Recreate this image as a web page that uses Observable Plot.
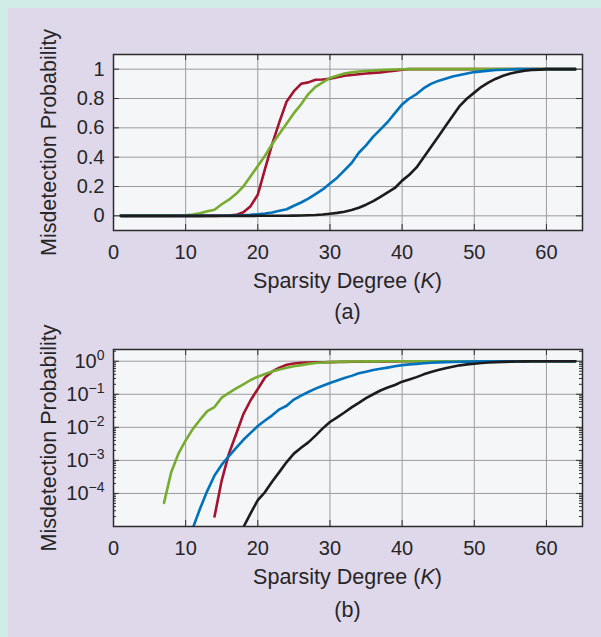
<!DOCTYPE html>
<html><head><meta charset="utf-8">
<script src="https://cdn.jsdelivr.net/npm/d3@7"></script>
<script src="https://cdn.jsdelivr.net/npm/@observablehq/plot@0.6"></script>
<style>
body{margin:0;background:#d0ece7;width:601px;height:637px;overflow:hidden;position:relative;font-family:"Liberation Sans",Arial,sans-serif;color:#262626}
#panel{position:absolute;left:8px;top:8px;width:593px;height:629px;background:#dfd8eb}
.chart{position:absolute;left:0}
.cap{position:absolute;left:113px;width:469px;text-align:center;font-size:21.5px;line-height:26px;color:#262626}
</style></head><body>
<div id="panel"></div>
<div id="chartA" class="chart" style="top:0"></div>
<div id="chartB" class="chart" style="top:300px"></div>
<div class="cap" style="top:268px">Sparsity Degree (<i>K</i>)</div>
<div class="cap" style="top:299px">(a)</div>
<div class="cap" style="top:564px">Sparsity Degree (<i>K</i>)</div>
<div class="cap" style="top:597px">(b)</div>
<script>
const K = [1,2,3,4,5,6,7,8,9,10,11,12,13,14,15,16,17,18,19,20,21,22,23,24,25,26,27,28,29,30,31,32,33,34,35,36,37,38,39,40,41,42,43,44,45,46,47,48,49,50,51,52,53,54,55,56,57,58,59,60,61,62,63,64];
const red = [0,0,0,0,0,0,0,0,0,0,0,0,0,0.00002,0.00025,0.0016,0.0063,0.025,0.066,0.145,0.32,0.49,0.64,0.78,0.85,0.9,0.91,0.928,0.93,0.935,0.945,0.955,0.96,0.965,0.97,0.975,0.978,0.985,0.99,0.997,1,1,1,1,1,1,1,1,1,1,1,1,1,1,1,1,1,1,1,1,1,1,1,1];
const green = [0,0,0,0,0,0,0.000052,0.00044,0.0016,0.004,0.009,0.017,0.031,0.041,0.079,0.11,0.15,0.2,0.27,0.34,0.41,0.49,0.56,0.63,0.7,0.76,0.83,0.88,0.91,0.94,0.955,0.97,0.978,0.984,0.988,0.991,0.994,0.996,0.998,0.999,1,1,1,1,1,1,1,1,1,1,1,1,1,1,1,1,1,1,1,1,1,1,1,1];
const blue = [0,0,0,0,0,0,0,0,0,0,0.000009,0.000035,0.00012,0.00035,0.00074,0.00135,0.0024,0.0042,0.0068,0.011,0.016,0.023,0.035,0.045,0.069,0.091,0.117,0.148,0.18,0.22,0.26,0.31,0.36,0.43,0.48,0.54,0.59,0.64,0.7,0.76,0.8,0.83,0.87,0.9,0.92,0.935,0.95,0.96,0.97,0.98,0.985,0.99,0.994,0.996,0.998,1,1,1,1,1,1,1,1,1];
const black = [0,0,0,0,0,0,0,0,0,0,0,0,0,0,0,0,0,0.0000095,0.000025,0.000063,0.00011,0.00023,0.00045,0.00089,0.0016,0.0024,0.0035,0.0056,0.0093,0.0145,0.02,0.028,0.04,0.055,0.076,0.1,0.13,0.16,0.19,0.24,0.28,0.33,0.4,0.47,0.54,0.61,0.68,0.75,0.8,0.84,0.88,0.91,0.935,0.955,0.97,0.98,0.99,0.995,0.997,1,1,1,1,1];
const seriesNames = ["red","green","blue","black"];
const seriesColors = ["#a2142f","#77ac30","#0072bd","#1c1c1c"];
const seriesValues = [red, green, blue, black];
const xTicks = [0,10,20,30,40,50,60];
const yTicksLin = [0,0.2,0.4,0.6,0.8,1];
const yTicksLog = [1e-4,1e-3,1e-2,1e-1,1];
const yMinorLog = [2e-5,3e-5,4e-5,5e-5,6e-5,7e-5,8e-5,9e-5,2e-4,3e-4,4e-4,5e-4,6e-4,7e-4,8e-4,9e-4,2e-3,3e-3,4e-3,5e-3,6e-3,7e-3,8e-3,9e-3,2e-2,3e-2,4e-2,5e-2,6e-2,7e-2,8e-2,9e-2,0.2,0.3,0.4,0.5,0.6,0.7,0.8,0.9,2];
const yLabel = "Misdetection Probability";

const W = 601, H = 260, ML = 113, MR = 19;
const FW = W - ML - MR;
const gridColor = "#9b9b9b", tickColor = "#333";

function chart({log, marginTop, marginBottom, yDomain, yTicks, yMinor, tickFormat}) {
  const FH = H - marginTop - marginBottom;
  const marks = [
    Plot.frame({fill: "#f4f6f8", stroke: "none"}),
    Plot.ruleX(xTicks.filter(d => d > 0), {x: d => d, stroke: gridColor, strokeWidth: 1}),
    Plot.ruleY(yTicks, {y: d => d, stroke: gridColor, strokeWidth: 1}),
    Plot.tickX(xTicks, {x: d => d, insetTop: FH - 6, stroke: tickColor}),
    Plot.tickX(xTicks, {x: d => d, insetBottom: FH - 6, stroke: tickColor}),
    Plot.tickY(yTicks, {y: d => d, insetRight: FW - 6, stroke: tickColor}),
    Plot.tickY(yTicks, {y: d => d, insetLeft: FW - 6, stroke: tickColor})
  ];
  if (yMinor) {
    marks.push(Plot.tickY(yMinor, {y: d => d, insetRight: FW - 3, stroke: tickColor}));
    marks.push(Plot.tickY(yMinor, {y: d => d, insetLeft: FW - 3, stroke: tickColor}));
  }
  seriesValues.forEach((vals, si) => {
    const rows = K.map((k, i) => ({K: k, v: vals[i]})).filter(d => !log || d.v > 0);
    marks.push(Plot.line(rows, {x: "K", y: "v", stroke: seriesColors[si], strokeWidth: 2.6, clip: true}));
  });
  marks.push(Plot.frame({stroke: "#2b2b2b", strokeWidth: 1.5}));
  return Plot.plot({
    width: W, height: H,
    marginLeft: ML, marginRight: MR, marginTop, marginBottom,
    style: {fontFamily: "'Liberation Sans', Arial, sans-serif", fontSize: "20px", color: "#262626", background: "transparent", overflow: "visible"},
    x: {domain: [0, 65], ticks: xTicks, tickSize: 0, tickPadding: 14, label: null, tickFormat: d => String(d)},
    y: {type: log ? "log" : "linear", domain: yDomain, ticks: yTicks, tickSize: 0, tickPadding: 9, tickFormat,
        label: yLabel, labelAnchor: "center", labelArrow: "none", labelOffset: 73},
    marks
  });
}

function cleanLabel(svg) {
  d3.select(svg).selectAll("text, tspan").each(function() {
    if (this.children.length) return;
    const s = this.textContent;
    if (/[\u2191\u2193\u2190\u2192]/.test(s)) this.textContent = s.replace(/\s*[\u2191\u2193\u2190\u2192]\s*/g, "").trim();
    if (this.textContent === yLabel) {
      this.setAttribute("font-size", "21.5px");
      this.style.fontSize = "21.5px";
    }
  });
}

const plotA = chart({log: false, marginTop: 54, marginBottom: 30, yDomain: [-0.1, 1.1], yTicks: yTicksLin,
  tickFormat: d => String(d)});
document.getElementById("chartA").appendChild(plotA);
cleanLabel(plotA);

const plotB = chart({log: true, marginTop: 49, marginBottom: 34, yDomain: [1e-5, 2.26], yTicks: yTicksLog, yMinor: yMinorLog,
  tickFormat: d => "10^" + String(Math.round(Math.log10(d))).replace("-", "\u2212")});
document.getElementById("chartB").appendChild(plotB);
cleanLabel(plotB);

d3.select(plotB).selectAll("text, tspan").each(function() {
  if (this.children.length) return;
  const s = this.textContent;
  if (!s.startsWith("10^")) return;
  const exp = s.slice(3);
  const t = d3.select(this);
  t.text("10");
  t.append("tspan").attr("dy", "-8").attr("font-size", "14px").text(exp);
});
</script>
</body></html>
